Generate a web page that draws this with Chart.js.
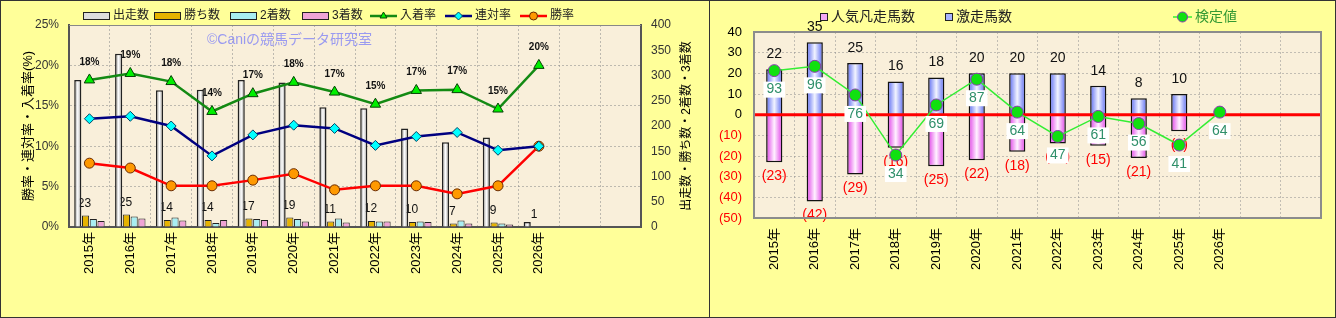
<!DOCTYPE html>
<html>
<head>
<meta charset="utf-8">
<script src="https://cdn.jsdelivr.net/npm/chart.js@4.4.1/dist/chart.umd.min.js"></script>
<style>
body { margin: 0; background: #FFFF99; }
#wrap { position: relative; width: 1336px; height: 318px; overflow: hidden; background: #FFFF99; }
#wrap canvas { position: absolute; top: 0; }
.frame { position: absolute; top: 0; height: 318px; box-sizing: border-box; border: 1px solid #333; pointer-events: none; }
</style>
</head>
<body>
<div id="wrap">
  <canvas id="perfChart" style="left:0" width="710" height="318"></canvas>
  <canvas id="runChart" style="left:709px" width="627" height="318"></canvas>
  <div class="frame" style="left:0;width:710px"></div>
  <div class="frame" style="left:709px;width:627px"></div>
</div>
<script>
// categories (two empty slots at the end like the original sheet)
const years = ['2015年', '2016年', '2017年', '2018年', '2019年', '2020年', '2021年',
  '2022年', '2023年', '2024年', '2025年', '2026年', '', ''];

// left chart: counts (right axis) and rates in % (left axis)
const starts = [291, 343, 271, 272, 291, 286, 237, 235, 195, 168, 177, 10];
const wins = [23, 25, 14, 14, 17, 19, 11, 12, 10, 7, 9, 1];
const seconds = [16, 21, 19, 8, 16, 16, 17, 11, 11, 13, 7, 0];
const thirds = [12, 17, 13, 14, 14, 11, 9, 11, 10, 7, 5, 1];
const placeRate = [18.2, 19.0, 18.0, 14.3, 16.5, 17.9, 16.7, 15.2, 16.9, 17.0, 14.6, 20.0];
const quinellaRate = [13.4, 13.7, 12.5, 8.8, 11.4, 12.6, 12.2, 10.1, 11.2, 11.7, 9.5, 10.0];
const winRate = [7.9, 7.3, 5.1, 5.1, 5.8, 6.6, 4.6, 5.1, 5.1, 4.1, 5.1, 10.0];
const rateTicks = [0, 5, 10, 15, 20, 25];
const countTicks = [0, 50, 100, 150, 200, 250, 300, 350, 400];

// right chart
const goodRuns = [22, 35, 25, 16, 18, 20, 20, 20, 14, 8, 10, null];
const badRuns = [-23, -42, -29, -16, -25, -22, -18, -14, -15, -21, -8, null];
const testValue = [93, 96, 76, 34, 69, 87, 64, 47, 61, 56, 41, 64];
const diffTicks = [-50, -40, -30, -20, -10, 0, 10, 20, 30, 40];

const FONT = '"Liberation Sans", Arial, "Noto Sans CJK JP", sans-serif';
Chart.defaults.font.family = FONT;
Chart.defaults.color = '#000';

// horizontal "cylinder" shading for a bar
function cylinder(edge, mid) {
  return function (c) {
    const bar = c.chart.getDatasetMeta(c.datasetIndex).data[c.dataIndex];
    if (!bar || !isFinite(bar.x) || !bar.width) return edge;
    const g = c.chart.ctx.createLinearGradient(bar.x - bar.width / 2, 0, bar.x + bar.width / 2, 0);
    g.addColorStop(0, edge);
    g.addColorStop(0.5, mid);
    g.addColorStop(1, edge);
    return g;
  };
}

function fixTicks(list) {
  return s => { s.ticks = list.map(v => ({ value: v })); };
}

function text(ctx, str, x, y, font, color, align) {
  ctx.save();
  ctx.font = font;
  ctx.fillStyle = color;
  ctx.textAlign = align || 'center';
  ctx.textBaseline = 'middle';
  ctx.fillText(str, x, y);
  ctx.restore();
}

function vtext(ctx, str, x, y, font, color) {
  ctx.save();
  ctx.translate(x, y);
  ctx.rotate(-Math.PI / 2);
  text(ctx, str, 0, 0, font, color);
  ctx.restore();
}

function drawLegend(chart, o) {
  const ctx = chart.ctx;
  chart.data.datasets.forEach((ds, i) => {
    const x = o.xs[i], y = o.y;
    ctx.save();
    if (ds.type === 'line') {
      ctx.strokeStyle = ds.borderColor;
      ctx.lineWidth = ds.borderWidth;
      ctx.beginPath();
      ctx.moveTo(x, y);
      ctx.lineTo(x + o.lineLen, y);
      ctx.stroke();
      ctx.fillStyle = ds.pointBackgroundColor;
      ctx.strokeStyle = ds.pointBorderColor;
      ctx.lineWidth = 1;
      Chart.helpers.drawPoint(ctx, { pointStyle: ds.pointStyle || 'circle', radius: o.pointRadius, borderWidth: 1, rotation: 0 }, x + o.lineLen / 2, y);
      text(ctx, ds.label, x + o.lineLen + 3, y, o.font, ds.legendText || '#222', 'left');
    } else {
      ctx.fillStyle = ds.swatch;
      ctx.strokeStyle = '#222';
      ctx.lineWidth = 1;
      ctx.fillRect(x, y - o.boxH / 2, o.boxW, o.boxH);
      ctx.strokeRect(x + 0.5, y - o.boxH / 2 + 0.5, o.boxW - 1, o.boxH - 1);
      text(ctx, ds.label, x + o.boxW + 3, y, o.font, '#222', 'left');
    }
    ctx.restore();
  });
}

function plotBack(chart, color) {
  const a = chart.chartArea, ctx = chart.ctx;
  ctx.save();
  ctx.fillStyle = color;
  ctx.fillRect(a.left, a.top, a.right - a.left, a.bottom - a.top);
  ctx.restore();
}

// ---------- left chart ----------
const perfDecor = {
  id: 'perfDecor',
  beforeDraw(chart) {
    plotBack(chart, '#F9EFDA');
  },
  beforeDatasetsDraw(chart) {
    const ctx = chart.ctx, a = chart.chartArea;
    ctx.save();
    ctx.strokeStyle = '#888';
    ctx.lineWidth = 1;
    ctx.beginPath();
    ctx.moveTo(a.left, a.top + 0.5);
    ctx.lineTo(a.right, a.top + 0.5);
    ctx.stroke();
    ctx.restore();
    text(ctx, '©Caniの競馬データ研究室', a.left + 138, a.top + 15, '14px ' + FONT, '#9A9AF0', 'left');
    // place-rate labels above the green line
    chart.getDatasetMeta(4).data.forEach((p, i) => {
      text(ctx, Math.round(placeRate[i]) + '%', p.x, p.y - 18, 'bold 10px ' + FONT, '#111');
    });
    // win counts above the win bars
    chart.getDatasetMeta(1).data.forEach((b, i) => {
      if (wins[i] == null) return;
      text(ctx, String(wins[i]), b.x - 1, b.y - 12, '12px ' + FONT, '#111');
    });
  },
  afterDraw(chart) {
    const ctx = chart.ctx, a = chart.chartArea;
    drawLegend(chart, { xs: [83, 154, 230, 302, 370, 445, 520], y: 16, lineLen: 27, pointRadius: 4,
      boxW: 27, boxH: 8, font: '12px ' + FONT });
    const cy = (a.top + a.bottom) / 2;
    vtext(ctx, '勝率・連対率・入着率(%)', 28, cy, '13px ' + FONT, '#000');
    vtext(ctx, '出走数・勝ち数・2着数・3着数', 687, cy, '12px ' + FONT, '#000');
  }
};

const barBase = { yAxisID: 'yCount', order: 1, borderColor: '#222', borderWidth: 1,
  categoryPercentage: 0.76, barPercentage: 0.92 };
const lineBase = { type: 'line', yAxisID: 'yRate', order: 0, borderWidth: 2.5, tension: 0, pointBorderWidth: 1 };

const perfChart = new Chart(document.getElementById('perfChart'), {
  type: 'bar',
  data: {
    labels: years,
    datasets: [
      { ...barBase, label: '出走数', data: starts, swatch: '#DDDDDD',
        backgroundColor: cylinder('#8E8E8E', '#FFFFFF'), borderWidth: 1.5 },
      { ...barBase, label: '勝ち数', data: wins, swatch: '#E6B300', backgroundColor: '#E6B300' },
      { ...barBase, label: '2着数', data: seconds, swatch: '#A8EEF2', backgroundColor: '#A8EEF2' },
      { ...barBase, label: '3着数', data: thirds, swatch: '#EFA3D6', backgroundColor: '#EFA3D6' },
      { ...lineBase, label: '入着率', data: placeRate, borderColor: '#138A13', pointStyle: 'triangle',
        pointRadius: 6, pointBackgroundColor: '#00F000', pointBorderColor: '#064006' },
      { ...lineBase, label: '連対率', data: quinellaRate, borderColor: '#000080', pointStyle: 'rectRot',
        pointRadius: 5, pointBackgroundColor: '#00FFFF', pointBorderColor: '#004466' },
      { ...lineBase, label: '勝率', data: winRate, borderColor: '#FF0000', pointStyle: 'circle',
        pointRadius: 5, pointBackgroundColor: '#FF9900', pointBorderColor: '#6A2A00' }
    ]
  },
  options: {
    responsive: false,
    animation: false,
    layout: { padding: { top: 25 } },
    plugins: { legend: { display: false }, tooltip: { enabled: false } },
    scales: {
      x: {
        afterFit: s => { s.height = 91; },
        grid: { color: 'rgba(140,140,140,0.55)', lineWidth: 1, drawTicks: false },
        border: { color: '#555', width: 2, dash: [2, 2] },
        ticks: { autoSkip: false, minRotation: 90, maxRotation: 90, padding: 5, font: { size: 13 }, color: '#000' }
      },
      yRate: {
        position: 'left', min: 0, max: 25,
        afterFit: s => { s.width = 69; },
        afterBuildTicks: fixTicks(rateTicks),
        grid: { color: 'rgba(140,140,140,0.55)', drawTicks: false },
        border: { color: '#555', width: 2, dash: [2, 2] },
        ticks: { padding: 10, font: { size: 12 }, color: '#333', callback: v => v + '%' }
      },
      yCount: {
        position: 'right', min: 0, max: 400,
        afterFit: s => { s.width = 69; },
        afterBuildTicks: fixTicks(countTicks),
        grid: { drawOnChartArea: false, drawTicks: false },
        border: { color: '#555', width: 2 },
        ticks: { padding: 10, font: { size: 12 }, color: '#333' }
      }
    }
  },
  plugins: [perfDecor]
});

// ---------- right chart ----------
const runDecor = {
  id: 'runDecor',
  beforeDraw(chart) {
    plotBack(chart, '#F9EFDA');
  },
  beforeDatasetDraw(chart, args) {
    if (args.index !== 2) return;
    const ctx = chart.ctx, a = chart.chartArea;
    const y0 = chart.scales.y.getPixelForValue(0);
    ctx.save();
    ctx.strokeStyle = '#FF0000';
    ctx.lineWidth = 3;
    ctx.beginPath();
    ctx.moveTo(a.left, y0);
    ctx.lineTo(a.right, y0);
    ctx.stroke();
    ctx.restore();
    chart.getDatasetMeta(1).data.forEach((b, i) => {
      if (goodRuns[i] == null) return;
      text(ctx, String(goodRuns[i]), b.x, b.y - 15, '14px ' + FONT, '#111');
    });
    chart.getDatasetMeta(0).data.forEach((b, i) => {
      if (badRuns[i] == null) return;
      text(ctx, '(' + Math.abs(badRuns[i]) + ')', b.x, b.y + 14, '14px ' + FONT, '#FF0000');
    });
  },
  afterDatasetsDraw(chart) {
    const ctx = chart.ctx;
    chart.getDatasetMeta(2).data.forEach((p, i) => {
      const y = p.y + 19;
      ctx.save();
      ctx.font = '14px ' + FONT;
      const w = ctx.measureText(String(testValue[i])).width + 6;
      ctx.fillStyle = '#FFFFFF';
      ctx.fillRect(p.x - w / 2, y - 8, w, 16);
      ctx.restore();
      text(ctx, String(testValue[i]), p.x, y, '14px ' + FONT, '#2F8F6A');
    });
  },
  afterDraw(chart) {
    const ctx = chart.ctx, a = chart.chartArea;
    ctx.save();
    ctx.strokeStyle = '#8C8C8C';
    ctx.lineWidth = 2;
    ctx.strokeRect(a.left, a.top, a.right - a.left, a.bottom - a.top);
    ctx.restore();
    drawLegend(chart, { xs: [111, 236, 464], y: 17, lineLen: 19, pointRadius: 5,
      boxW: 8, boxH: 8, font: '14px ' + FONT });
  }
};

const runChart = new Chart(document.getElementById('runChart'), {
  type: 'bar',
  data: {
    labels: years,
    datasets: [
      { label: '人気凡走馬数', data: badRuns, stack: 'runs', order: 1, swatch: '#F4A8F4',
        backgroundColor: cylinder('#E040E8', '#FFF2FF'), borderColor: '#111', borderWidth: 1.5,
        categoryPercentage: 0.4, barPercentage: 1 },
      { label: '激走馬数', data: goodRuns, stack: 'runs', order: 1, swatch: '#A8B4FF',
        backgroundColor: cylinder('#5A6AF2', '#F2F4FF'), borderColor: '#111', borderWidth: 1.5,
        categoryPercentage: 0.4, barPercentage: 1 },
      { type: 'line', label: '検定値', data: testValue, yAxisID: 'yTest', order: 0,
        borderColor: '#33EE33', borderWidth: 1.5, tension: 0, legendText: '#339933',
        pointRadius: 6, pointBackgroundColor: '#10E010', pointBorderColor: '#8A3AB0', pointBorderWidth: 1 }
    ]
  },
  options: {
    responsive: false,
    animation: false,
    layout: { padding: { top: 32, right: 15 } },
    plugins: { legend: { display: false }, tooltip: { enabled: false } },
    scales: {
      x: {
        stacked: true,
        afterFit: s => { s.height = 100; },
        grid: { color: 'rgba(140,140,140,0.5)', drawTicks: false },
        border: { display: false, dash: [2, 2] },
        ticks: { autoSkip: false, minRotation: 90, maxRotation: 90, padding: 10, font: { size: 13 }, color: '#000' }
      },
      y: {
        stacked: true, min: -50, max: 40,
        afterFit: s => { s.width = 45; },
        afterBuildTicks: fixTicks(diffTicks),
        grid: { color: 'rgba(140,140,140,0.5)', drawTicks: false },
        border: { display: false, dash: [2, 2] },
        ticks: { padding: 12, font: { size: 13 },
          color: c => (c.tick.value < 0 ? '#FF0000' : '#000'),
          callback: v => (v < 0 ? '(' + (-v) + ')' : String(v)) }
      },
      yTest: { display: false, min: -10, max: 120 }
    }
  },
  plugins: [runDecor]
});

// second pass so the bar gradients see final bar positions
perfChart.update('none');
runChart.update('none');
</script>
</body>
</html>
